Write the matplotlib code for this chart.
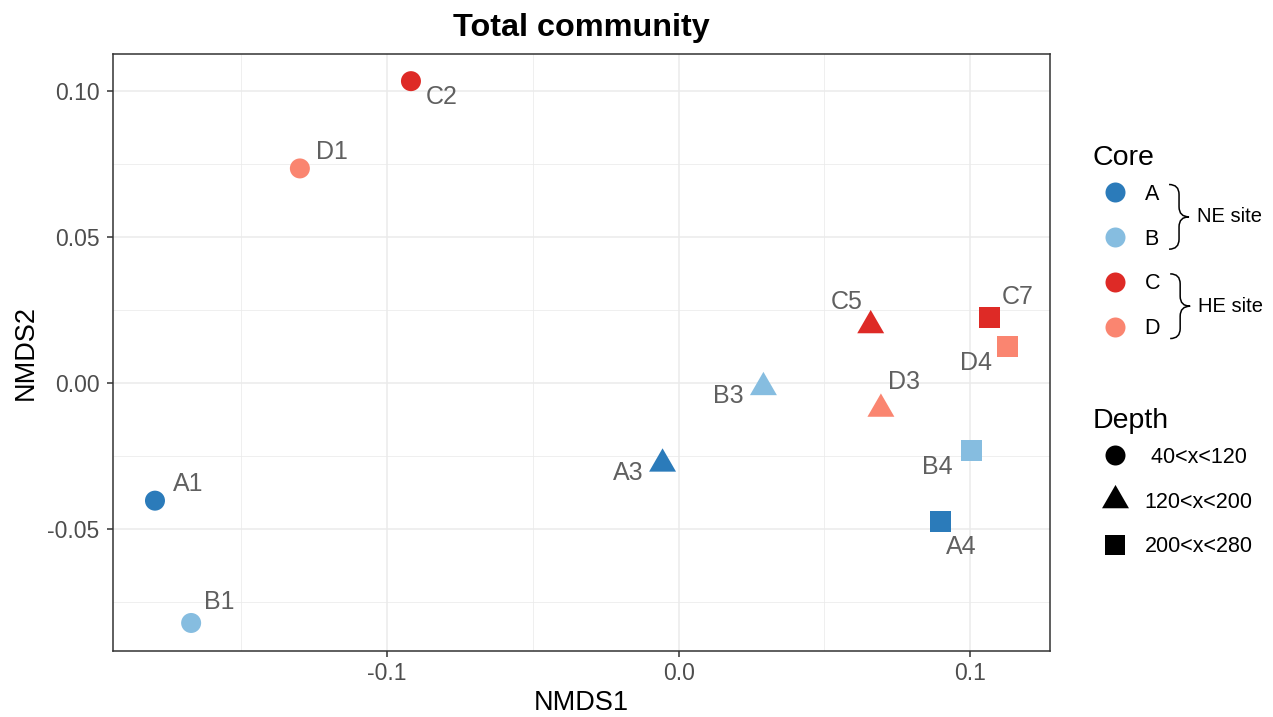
import matplotlib
matplotlib.use("Agg")
import matplotlib.pyplot as plt
from matplotlib.lines import Line2D
from matplotlib.path import Path
from matplotlib.patches import PathPatch
from matplotlib.ticker import FixedLocator, FormatStrFormatter

plt.rcParams["font.family"] = ["Liberation Sans", "DejaVu Sans"]
plt.rcParams["axes.unicode_minus"] = False

# NMDS scores
samples = ["A1", "B1", "D1", "C2", "A3", "B3", "C5", "D3", "C7", "D4", "B4", "A4"]
nmds1 = [-0.1796, -0.1672, -0.1299, -0.0918, -0.0055, 0.0291, 0.0659, 0.0694,
         0.1065, 0.1129, 0.1004, 0.0897]
nmds2 = [-0.0404, -0.0823, 0.0734, 0.1033, -0.0278, -0.0016, 0.0196, -0.0090,
         0.0222, 0.0123, -0.0233, -0.0476]
core = ["A", "B", "D", "C", "A", "B", "C", "D", "C", "D", "B", "A"]
depth = ["40<x<120", "40<x<120", "40<x<120", "40<x<120",
         "120<x<200", "120<x<200", "120<x<200", "120<x<200",
         "200<x<280", "200<x<280", "200<x<280", "200<x<280"]

core_levels = ["A", "B", "C", "D"]
depth_levels = ["40<x<120", "120<x<200", "200<x<280"]
depth_legend_labels = [" 40<x<120", "120<x<200", "200<x<280"]
site_groups = [("NE site", "A", "B"), ("HE site", "C", "D")]

core_colors = {"A": "#2b7bba", "B": "#86bde0", "C": "#de2a26", "D": "#fa8570"}

# ggplot-like filled triangle (circumcentre at the data point)
tri = Path([(0, 1.5551), (1.3468, -0.7776), (-1.3468, -0.7776), (0, 1.5551)],
           [Path.MOVETO, Path.LINETO, Path.LINETO, Path.CLOSEPOLY])
depth_markers = {"40<x<120": ("o", 14.4), "120<x<200": (tri, 22.4), "200<x<280": ("s", 15.1)}

# label placement (pixels, x right / y up) mimicking the repelled labels
label_offsets = {
    "A1": (18, 17, "left"), "B1": (13, 21, "left"), "D1": (16, 16, "left"),
    "C2": (15, -16, "left"), "A3": (-19, -9, "right"), "B3": (-20, -9, "right"),
    "C5": (-8, 23, "right"), "D3": (7, 27, "left"), "C7": (13, 21, "left"),
    "D4": (-16, -16, "right"), "B4": (-19, -16, "right"), "A4": (21, -25, "center"),
}

W, H = 1273, 717
fig = plt.figure(figsize=(W / 100, H / 100), dpi=100)
ax = fig.add_axes([113 / W, 1 - 651 / H, (1050 - 113) / W, (651 - 54) / H])

for lvl in depth_levels:
    idx = [i for i, d in enumerate(depth) if d == lvl]
    marker, ms = depth_markers[lvl]
    ax.scatter([nmds1[i] for i in idx], [nmds2[i] for i in idx],
               c=[core_colors[core[i]] for i in idx], marker=marker,
               s=ms ** 2, linewidths=0, zorder=3)

for i, name in enumerate(samples):
    dx, dy, ha = label_offsets[name]
    ax.annotate(name, (nmds1[i], nmds2[i]), xytext=(dx, dy), textcoords="offset pixels",
                ha=ha, va="center", fontsize=18, color="#606060", zorder=4)

ax.set_xlim(-0.194, 0.1274)
ax.set_ylim(-0.0919, 0.1126)
ax.xaxis.set_major_locator(FixedLocator([-0.1, 0.0, 0.1]))
ax.xaxis.set_minor_locator(FixedLocator([-0.15, -0.05, 0.05]))
ax.yaxis.set_major_locator(FixedLocator([-0.05, 0.0, 0.05, 0.10]))
ax.yaxis.set_minor_locator(FixedLocator([-0.075, -0.025, 0.025, 0.075]))
ax.xaxis.set_major_formatter(FormatStrFormatter("%.1f"))
ax.yaxis.set_major_formatter(FormatStrFormatter("%.2f"))

ax.grid(which="major", color="#ebebeb", lw=1.1)
ax.grid(which="minor", color="#ebebeb", lw=0.55)
ax.set_axisbelow(True)
for sp in ax.spines.values():
    sp.set_color("#333333")
    sp.set_linewidth(1.1)
ax.tick_params(which="major", length=4.3, width=1.1, color="#333333",
               labelsize=16.5, labelcolor="#4d4d4d", pad=3.7)
ax.tick_params(axis="y", pad=5.5)
ax.tick_params(which="minor", length=0)

ax.set_xlabel("NMDS1", fontsize=19.5, labelpad=3.5)
ax.set_ylabel("NMDS2", fontsize=19.5, labelpad=6)
ax.set_title("Total community", fontsize=23.3, fontweight="bold", pad=13)

# legends (titles placed as separate texts to get ggplot spacing)
leg_kw = dict(loc="upper left", frameon=False, fontsize=15.5, borderpad=0,
              borderaxespad=0, handlelength=2.05, handletextpad=0.35, labelspacing=1.1)

core_handles = [Line2D([], [], ls="none", marker="o", markersize=14.4, markeredgewidth=0,
                       color=core_colors[c]) for c in core_levels]
leg_core = fig.legend(core_handles, core_levels,
                      bbox_to_anchor=(1093 / W, 1 - 184 / H), **leg_kw)
fig.text(1093 / W, 1 - 158 / H, "Core", fontsize=20.5, ha="left", va="center")

depth_handles = [Line2D([], [], ls="none", marker=depth_markers[d][0],
                        markersize=depth_markers[d][1], markeredgewidth=0, color="black")
                 for d in depth_levels]
leg_depth = fig.legend(depth_handles, depth_legend_labels,
                       bbox_to_anchor=(1093 / W, 1 - 447 / H), **leg_kw)
fig.text(1093 / W, 1 - 421 / H, "Depth", fontsize=20.5, ha="left", va="center")

# braces grouping the cores by site
fig.canvas.draw()
renderer = fig.canvas.get_renderer()
to_fig = fig.transFigure.inverted()
core_texts = dict(zip(core_levels, leg_core.get_texts()))
for site, top_core, bot_core in site_groups:
    bt = core_texts[top_core].get_window_extent(renderer)
    bb = core_texts[bot_core].get_window_extent(renderer)
    x0 = max(bt.x1, bb.x1) + 10
    x1 = x0 + 20
    xm = (x0 + x1) / 2
    r = (x1 - x0) / 2
    yt = (bt.y0 + bt.y1) / 2 + 10
    yb = (bb.y0 + bb.y1) / 2 - 10
    ym = (yt + yb) / 2
    verts = [(x0, yt), (xm, yt), (xm, yt - r), (xm, ym + r), (xm, ym), (x1, ym),
             (xm, ym), (xm, ym - r), (xm, yb + r), (xm, yb), (x0, yb)]
    codes = [Path.MOVETO, Path.CURVE3, Path.CURVE3, Path.LINETO, Path.CURVE3, Path.CURVE3,
             Path.CURVE3, Path.CURVE3, Path.LINETO, Path.CURVE3, Path.CURVE3]
    verts = [tuple(to_fig.transform(v)) for v in verts]
    fig.add_artist(PathPatch(Path(verts, codes), transform=fig.transFigure,
                             fill=False, lw=1.1, edgecolor="black"))
    tx, ty = to_fig.transform((x1 + 8, ym))
    fig.text(tx, ty, site, ha="left", va="center", fontsize=14.5)

fig.savefig("out.png", dpi=100)
